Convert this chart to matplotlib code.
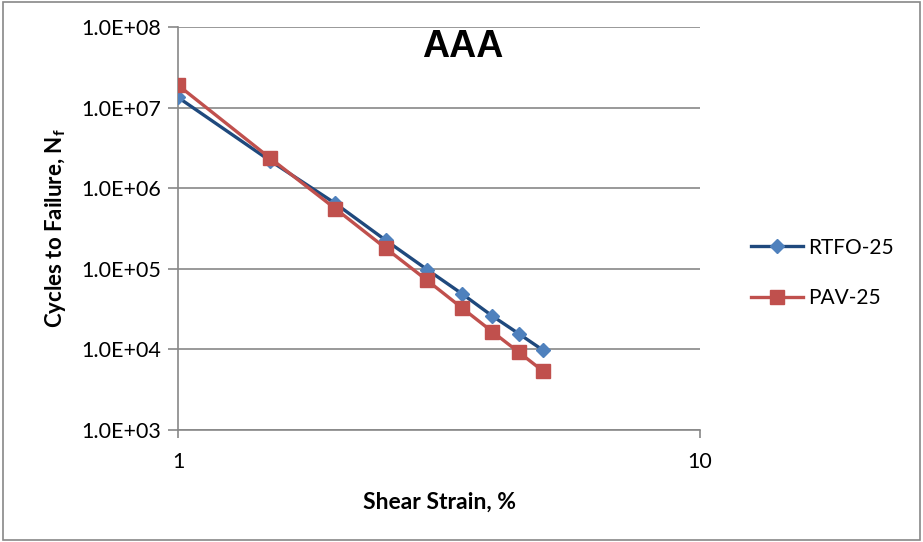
import numpy as np
import matplotlib
matplotlib.use("Agg")
import matplotlib.pyplot as plt
from matplotlib.ticker import FixedLocator, FuncFormatter, NullLocator

plt.rcParams['font.family'] = ['Lato', 'DejaVu Sans']
plt.rcParams['mathtext.fontset'] = 'custom'
plt.rcParams['mathtext.rm'] = 'Lato:bold'
plt.rcParams['mathtext.it'] = 'Lato:bold'
plt.rcParams['mathtext.default'] = 'rm'

# shear strain (%) and fatigue life for each aging condition
strain = [1.0, 1.5, 2.0, 2.5, 3.0, 3.5, 4.0, 4.5, 5.0]
rtfo_25 = [1.34e7, 2.2e6, 6.5e5, 2.26e5, 9.8e4, 4.9e4, 2.6e4, 1.56e4, 9.8e3]
pav_25 = [1.9e7, 2.37e6, 5.6e5, 1.8e5, 7.2e4, 3.27e4, 1.66e4, 9.2e3, 5.4e3]

y_ticks = [1e3, 1e4, 1e5, 1e6, 1e7, 1e8]
x_ticks = [1, 10]

fig = plt.figure(figsize=(9.23, 5.42), dpi=100)
ax = fig.add_axes([0.1929, 0.2066, 0.5655, 0.7435])

ax.plot(strain, rtfo_25, color='#1F497D', lw=2.4, marker='D', ms=7,
        mfc='#4F81BD', mec='#4F81BD', label='RTFO-25', zorder=3)
ax.plot(strain, pav_25, color='#C0504D', lw=2.4, marker='s', ms=10,
        mfc='#C0504D', mec='#C0504D', label='PAV-25', zorder=4)

ax.set_xscale('log')
ax.set_yscale('log')
ax.set_xlim(1, 10)
ax.set_ylim(1e3, 1e8)

ax.yaxis.set_major_locator(FixedLocator(y_ticks))
ax.yaxis.set_minor_locator(NullLocator())
ax.xaxis.set_major_locator(FixedLocator(x_ticks))
ax.xaxis.set_minor_locator(NullLocator())
ax.yaxis.set_major_formatter(FuncFormatter(lambda v, p: '%.1E' % v))
ax.xaxis.set_major_formatter(FuncFormatter(lambda v, p: '%d' % v))

ax.grid(axis='y', color='#888888', lw=1.2)
ax.set_axisbelow(True)
for side in ['top', 'right']:
    ax.spines[side].set_visible(False)
for side in ['left', 'bottom']:
    ax.spines[side].set_color('#888888')
    ax.spines[side].set_linewidth(1.2)
ax.tick_params(axis='y', direction='out', length=7, width=1.2, color='#888888',
               labelsize=15.5, pad=5)
ax.tick_params(axis='x', direction='out', length=6, width=1.2, color='#888888',
               labelsize=15.5, pad=10)

ax.set_xlabel('Shear Strain, %', fontsize=16.5, fontweight='bold', labelpad=14)
ax.set_ylabel('Cycles to Failure, N$_{f}$', fontsize=16, fontweight='bold',
              labelpad=10)

ax.text(0.545, 0.95, 'AAA', transform=ax.transAxes, ha='center', va='center',
        fontsize=27, fontweight='bold', family='Liberation Sans')

leg = ax.legend(loc='center left', bbox_to_anchor=(1.062, 0.39), frameon=False,
                fontsize=15, handlelength=2.5, labelspacing=1.45, handletextpad=0.25)

# outer chart border
fig.patches.append(plt.Rectangle((0.003, 0.003), 0.994, 0.994, transform=fig.transFigure,
                                 fill=False, edgecolor='#888888', lw=1.2))

fig.savefig('out.png', dpi=100)
